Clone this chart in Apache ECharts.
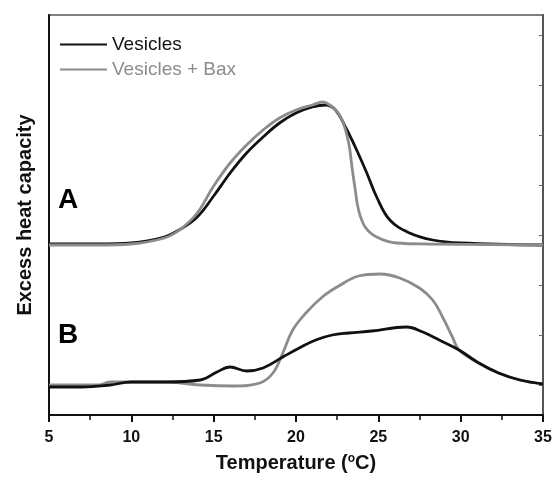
<!DOCTYPE html>
<html>
<head>
<meta charset="utf-8">
<script src="https://cdn.jsdelivr.net/npm/echarts@6/dist/echarts.min.js"></script>
<style>
  html, body { margin: 0; padding: 0; background: #fff; overflow: hidden; }
</style>
</head>
<body>
<div id="main" style="width: 555px; height: 480px;"></div>
<script>
// curve A: vesicles / vesicles + Bax (upper trace)
var aVesT = [5, 8, 10, 12, 13, 14, 15, 16, 17, 18, 19, 20, 21, 21.8, 22.4, 23, 23.6, 24.3, 24.9, 25.7, 26.9, 28.3, 30, 35];
var aVesY = [17.1, 17.1, 17.2, 17.8, 18.6, 19.8, 21.9, 24.2, 26.2, 27.8, 29.2, 30.2, 30.8, 31.0, 30.5, 28.8, 26.8, 24.2, 21.8, 19.5, 18.2, 17.5, 17.2, 17.0];
var aBaxT = [5, 8, 10, 12, 13, 14, 15, 16, 17, 18, 19, 20, 21, 21.6, 22.4, 22.8, 23.2, 23.4, 23.6, 23.8, 24.2, 24.9, 26.1, 28, 35];
var aBaxY = [17.0, 17.0, 17.1, 17.7, 18.6, 20.2, 22.9, 25.2, 27.0, 28.5, 29.7, 30.5, 31.0, 31.3, 30.5, 29.5, 27.2, 24.8, 22.5, 20.5, 18.8, 17.8, 17.2, 17.1, 17.0];

// curve B (lower trace)
var bVesT = [5, 7, 8.7, 10, 12, 14.2, 15.2, 16, 17, 18, 19.2, 20.2, 21.2, 22.2, 23.2, 24.6, 26.7, 27.7, 28.7, 29.9, 31.1, 32.3, 33.6, 35];
var bVesY = [2.8, 2.8, 3.0, 3.3, 3.3, 3.5, 4.3, 4.8, 4.4, 4.7, 5.8, 6.7, 7.5, 8.0, 8.2, 8.4, 8.8, 8.3, 7.5, 6.5, 5.2, 4.2, 3.5, 3.1];
var bBaxT = [5, 8, 8.7, 10, 12, 14.2, 16.2, 17.8, 18.6, 19.2, 19.8, 20.6, 21.6, 22.6, 23.8, 25.1, 26.3, 27.5, 28.3, 28.9, 29.5, 29.9, 31.1, 32.3, 33.6, 35];
var bBaxY = [3.0, 3.0, 3.3, 3.3, 3.3, 3.0, 2.9, 3.2, 4.2, 6.2, 8.5, 10.2, 11.8, 12.9, 13.9, 14.1, 13.7, 12.7, 11.5, 9.8, 7.8, 6.5, 5.2, 4.2, 3.5, 3.1];

var rightTicks = [3, 8, 13, 18, 23, 28, 33, 38];

function pairs(xs, ys) {
  var out = [];
  for (var i = 0; i < xs.length; i++) out.push([xs[i], ys[i]]);
  return out;
}

var black = '#111111';
var gray = '#8c8c8c';

var myChart = echarts.init(document.getElementById('main'));
var lineSeries = function (name, color, data, z) {
  return {
    name: name,
    type: 'line',
    data: data,
    smooth: 0.4,
    symbol: 'none',
    z: z,
    lineStyle: { color: color, width: 2.8 },
    itemStyle: { color: color }
  };
};

var option = {
  animation: false,
  grid: { left: 49, right: 12, top: 15, bottom: 65, show: true, borderColor: '#555', borderWidth: 1.5 },
  legend: {
    orient: 'vertical',
    left: 55,
    top: 30,
    itemGap: 6,
    itemWidth: 47,
    itemHeight: 2,
    icon: 'rect',
    data: [
      { name: 'Vesicles', textStyle: { color: '#111' } },
      { name: 'Vesicles + Bax', textStyle: { color: gray } }
    ],
    textStyle: { fontFamily: 'Liberation Sans, Arial', fontSize: 19 }
  },
  graphic: [
    { type: 'text', left: 58, top: 186, style: { text: 'A', font: 'bold 28px Liberation Sans, Arial', fill: '#000' } },
    { type: 'text', left: 58, top: 321, style: { text: 'B', font: 'bold 28px Liberation Sans, Arial', fill: '#000' } }
  ],
  xAxis: [
    {
      type: 'value',
      min: 5,
      max: 35,
      interval: 5,
      name: 'Temperature ({sup|o}C)',
      nameLocation: 'middle',
      nameGap: 38,
      nameTextStyle: {
        fontFamily: 'Liberation Sans, Arial',
        fontWeight: 'bold',
        fontSize: 20,
        color: '#111',
        rich: { sup: { fontSize: 12, fontWeight: 'bold', verticalAlign: 'top', padding: [0, 0, 8, 0] } }
      },
      axisLine: { onZero: false, lineStyle: { color: '#111', width: 2 } },
      axisTick: { inside: false, length: 7, lineStyle: { color: '#111', width: 2 } },
      minorTick: { show: true, splitNumber: 2, length: 5, lineStyle: { color: '#111', width: 1.5 } },
      axisLabel: {
        margin: 15,
        fontFamily: 'Liberation Sans, Arial',
        fontWeight: 'bold',
        fontSize: 16,
        color: '#111'
      },
      splitLine: { show: false }
    }
  ],
  yAxis: [
    {
      type: 'value',
      min: 0,
      max: 40,
      name: 'Excess heat capacity',
      nameLocation: 'middle',
      nameGap: 14,
      nameTextStyle: {
        fontFamily: 'Liberation Sans, Arial',
        fontWeight: 'bold',
        fontSize: 20,
        color: '#111'
      },
      axisLine: { show: true, onZero: false, lineStyle: { color: '#111', width: 2 } },
      axisTick: { show: false },
      axisLabel: { show: false },
      splitLine: { show: false }
    },
    {
      type: 'value',
      position: 'right',
      min: 0,
      max: 40,
      axisLine: { show: true, onZero: false, lineStyle: { color: '#555', width: 2 } },
      axisTick: { show: true, inside: true, length: 4, customValues: rightTicks, lineStyle: { color: '#666', width: 1 } },
      axisLabel: { show: false },
      splitLine: { show: false }
    }
  ],
  series: [
    lineSeries('Vesicles', black, pairs(aVesT, aVesY), 2),
    lineSeries('Vesicles + Bax', gray, pairs(aBaxT, aBaxY), 3),
    lineSeries('Vesicles + Bax', gray, pairs(bBaxT, bBaxY), 2),
    lineSeries('Vesicles', black, pairs(bVesT, bVesY), 3)
  ]
};
myChart.setOption(option);
</script>
</body>
</html>
